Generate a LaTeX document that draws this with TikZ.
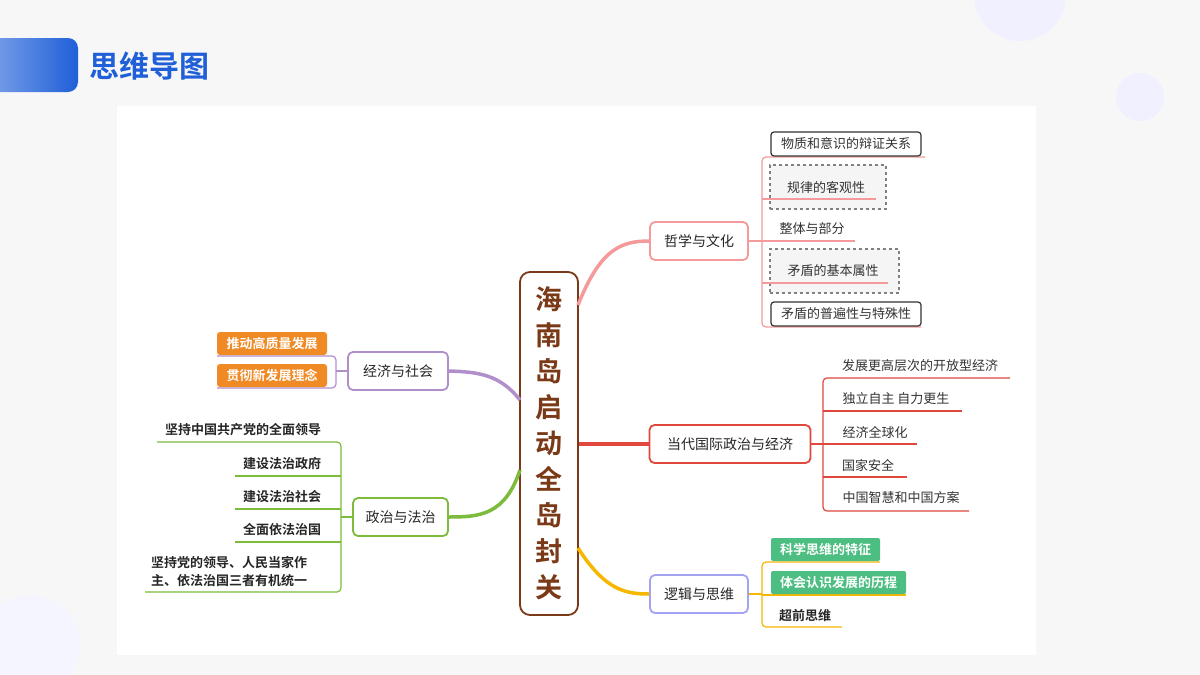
\documentclass[tikz,border=0pt]{standalone}
\usepackage{fontspec}
\setmainfont{Noto Sans CJK SC}
\newfontfamily\cjkb{Noto Sans CJK SC Bold}
\usetikzlibrary{shadings}
\definecolor{pinkc}{HTML}{F49A9A}
\definecolor{redc}{HTML}{E0483E}
\definecolor{lavc}{HTML}{A3A3F2}
\definecolor{purc}{HTML}{B08FCB}
\definecolor{grnc}{HTML}{7CBB3C}
\definecolor{yelc}{HTML}{F5B700}
\definecolor{brnc}{HTML}{7B3A17}
\definecolor{orgc}{HTML}{F08A24}
\definecolor{mintc}{HTML}{4DBE82}
\definecolor{blu}{HTML}{1F5FD8}
\begin{document}
\begin{tikzpicture}[x=1pt,y=-1pt,
 br/.style={draw=#1,line width=1.8pt,rounded corners=5pt,fill=white,minimum height=38pt,inner xsep=8pt,font=\fontsize{14}{14}\selectfont,text=black!85},
 lf/.style={font=\fontsize{13}{13}\selectfont,text=black!80,inner sep=1pt},
 ln/.style={draw=#1,line width=1.2pt,rounded corners=4pt},
 con/.style={draw=#1,line width=3.5pt}]
\useasboundingbox (0,0) rectangle (1200,675);
\fill[black!3] (0,0) rectangle (1200,675);
\fill[blue!6] (1020,-5) circle (46);
\fill[blue!6] (1140,97) circle (24);
\fill[blue!4] (30,645) circle (50);
\fill[white] (117,106) rectangle (1036,655);
\shade[left color=blu!55,right color=blu,rounded corners=10pt] (-20,38) rectangle (78,92);
\node[text=blu,font=\cjkb\fontsize{30}{30}\selectfont,anchor=west] (title) at (86,66) {思维导图};
% centre
\node[draw=brnc,line width=1.8pt,rounded corners=10pt,fill=white,minimum width=58pt,minimum height=343pt,text=brnc,font=\cjkb\fontsize{27}{36}\selectfont,align=center] (c) at (549,443.5) {海\\南\\岛\\启\\动\\全\\岛\\封\\关};
% branches
\node[br=pinkc,minimum width=98pt] (zx) at (699,241) {哲学与文化};
\node[br=redc,minimum width=161pt] (dd) at (730,444) {当代国际政治与经济};
\node[br=lavc,minimum width=98pt] (lj) at (699,594) {逻辑与思维};
\node[br=purc,minimum width=100pt] (js) at (398,371) {经济与社会};
\node[br=grnc,minimum width=95pt] (zz) at (400.5,517) {政治与法治};
\draw[con=pinkc] (578,305) .. controls (600,250) and (620,241) .. (zx.west);
\draw[con=redc] (c.east|-dd) -- (dd.west);
\draw[con=yelc] (578,548) .. controls (605,590) and (625,594) .. (lj.west);
\draw[con=purc] (520,400) .. controls (500,375) and (480,372) .. (js.east);
\draw[con=grnc] (520,470) .. controls (505,515) and (480,517) .. (zz.east);
% 哲学 leaves
\draw[ln=pinkc] (925,157) -- (762,157) -- (762,327) -- (921,327);
\draw[ln=pinkc] (zx.east) -- (762,241);
\node[draw=black!50,dashed,line width=1.2pt,fill=black!4,minimum width=116pt,minimum height=44pt] (b2) at (828,187) {};
\node[draw=black!50,dashed,line width=1.2pt,fill=black!4,minimum width=129pt,minimum height=44pt] (b4) at (834.5,271) {};
\node[draw=black!80,line width=1.2pt,rounded corners=3pt,fill=white,minimum width=150pt,minimum height=24pt,lf] (l1) at (846,144) {物质和意识的辩证关系};
\node[lf] (l2) at (826,187) {规律的客观性};
\node[lf] (l3) at (812,229) {整体与部分};
\node[lf] (l4) at (833,271) {矛盾的基本属性};
\node[draw=black!80,line width=1.2pt,rounded corners=3pt,fill=white,minimum width=150pt,minimum height=24pt,lf] (l5) at (846,314) {矛盾的普遍性与特殊性};
\draw[ln=pinkc] (762,199) -- (876,199);
\draw[ln=pinkc] (762,241) -- (855,241);
\draw[ln=pinkc] (762,283) -- (888,283);
% 当代 leaves
\draw[ln=redc] (1010,378) -- (823,378) -- (823,511) -- (969,511);
\draw[ln=redc] (dd.east) -- (823,444);
\draw[ln=redc] (823,411) -- (962,411);
\draw[ln=redc] (823,444) -- (917,444);
\draw[ln=redc] (823,477) -- (907,477);
\node[lf] (d1) at (920,366) {发展更高层次的开放型经济};
\node[lf] (d2) at (896,399) {独立自主 自力更生};
\node[lf] (d3) at (875,432) {经济全球化};
\node[lf] (d4) at (868,465) {国家安全};
\node[lf] (d5) at (901,498) {中国智慧和中国方案};
% 逻辑 leaves
\draw[ln=yelc] (880,562) -- (762,562) -- (762,627) -- (842,627);
\draw[ln=yelc] (lj.east) -- (762,594);
\draw[ln=yelc] (762,595) -- (906,595);
\node[fill=mintc,text=white,font=\cjkb\fontsize{13}{13}\selectfont,minimum width=109pt,minimum height=23pt,rounded corners=2pt] (g1) at (825.5,549.5) {科学思维的特征};
\node[fill=mintc,text=white,font=\cjkb\fontsize{13}{13}\selectfont,minimum width=135pt,minimum height=23pt,rounded corners=2pt] (g2) at (838.5,582.5) {体会认识发展的历程};
\node[font=\cjkb\fontsize{13}{13}\selectfont,text=black!85] (g3) at (805,616) {超前思维};
% 经济与社会 leaves
\draw[ln=purc] (217,356) -- (336,356) -- (336,388) -- (217,388);
\draw[ln=purc] (336,371) -- (js.west);
\node[fill=orgc,text=white,font=\cjkb\fontsize{13}{13}\selectfont,minimum width=110pt,minimum height=23pt,rounded corners=3pt] (o1) at (272,343.5) {推动高质量发展};
\node[fill=orgc,text=white,font=\cjkb\fontsize{13}{13}\selectfont,minimum width=110pt,minimum height=23pt,rounded corners=3pt] (o2) at (272,375.5) {贯彻新发展理念};
% 政治 leaves
\draw[ln=grnc] (157,442) -- (341,442) -- (341,592) -- (145,592);
\draw[ln=grnc] (235,476) -- (341,476);
\draw[ln=grnc] (235,509) -- (341,509);
\draw[ln=grnc] (235,542) -- (341,542);
\draw[ln=grnc] (341,517) -- (zz.west);
\node[font=\cjkb\fontsize{13}{13}\selectfont,text=black!85] (p1) at (243,430) {坚持中国共产党的全面领导};
\node[font=\cjkb\fontsize{13}{13}\selectfont,text=black!85] (p2) at (282,464) {建设法治政府};
\node[font=\cjkb\fontsize{13}{13}\selectfont,text=black!85] (p3) at (282,497) {建设法治社会};
\node[font=\cjkb\fontsize{13}{13}\selectfont,text=black!85] (p4) at (282,530) {全面依法治国};
\node[font=\cjkb\fontsize{13}{18}\selectfont,text=black!85,align=left] (p5) at (229,572) {坚持党的领导、人民当家作\\主、依法治国三者有机统一};
\end{tikzpicture}
\end{document}
